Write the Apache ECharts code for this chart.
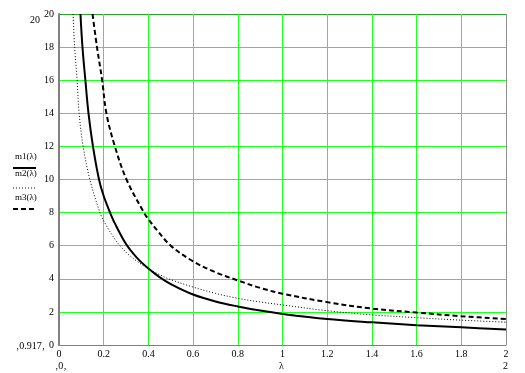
<!DOCTYPE html>
<html>
<head>
<meta charset="utf-8">
<script src="https://cdn.jsdelivr.net/npm/echarts@6/dist/echarts.min.js"></script>
<style>
html,body{margin:0;padding:0;background:#fff;}
#c{width:525px;height:373px;}
</style>
</head>
<body>
<div id="c"></div>
<script>
// lambda values and curve values
const m1Lambda = [0.096,0.105,0.118,0.132,0.152,0.179,0.2,0.227,0.25,0.3,0.35,0.4,0.45,0.5,0.6,0.7,0.8,0.9,1.0,1.2,1.4,1.6,1.8,2.0];
const m1Values = [20,18,16,14,12,10,9.0,8.05,7.35,6.1,5.25,4.62,4.1,3.68,3.05,2.63,2.33,2.08,1.88,1.57,1.37,1.2,1.07,0.94];

const m2Lambda = [0.063,0.070,0.081,0.090,0.108,0.138,0.183,0.2,0.25,0.3,0.35,0.4,0.45,0.5,0.6,0.7,0.8,0.9,1.0,1.2,1.4,1.6,1.8,2.0];
const m2Values = [20,18,16,14,12,10,8,7.5,6.4,5.6,5.05,4.62,4.25,3.95,3.5,3.12,2.82,2.6,2.42,2.07,1.82,1.65,1.5,1.38];

const m3Lambda = [0.150,0.170,0.193,0.212,0.25,0.302,0.38,0.4,0.444,0.5,0.6,0.7,0.8,0.9,1.0,1.2,1.4,1.6,1.8,2.0];
const m3Values = [20,18,16,14,12,10,8,7.6,6.85,6.0,5.05,4.4,3.9,3.45,3.1,2.59,2.2,1.96,1.74,1.57];

const xTicks = ['0','0.2','0.4','0.6','0.8','1','1.2','1.4','1.6','1.8','2'];
const yTicks = ['0','2','4','6','8','10','12','14','16','18','20'];
const legendNames = ['m1(λ)','m2(λ)','m3(λ)'];

const pairs = (xs, ys) => xs.map((x, i) => [x, ys[i]]);

const font = 'Liberation Serif';
const green = '#22ff22';
const chart = echarts.init(document.getElementById('c'), null, {renderer: 'canvas'});

const xSplitColors = xTicks.map((t, i) => i === xTicks.length - 1 ? '#909090' : green);
const ySplitColors = yTicks.map((t, i) => i === yTicks.length - 1 ? '#30a030' : green);

const legendTop = [152, 169, 193];
const legendLineY = [168, 188, 209];
const legendTypes = ['solid', [1, 2], [5, 3]];
const legendWidths = [2, 1, 2];

const graphics = [];
legendNames.forEach((n, i) => {
  graphics.push({type: 'text', left: 15, top: legendTop[i],
    style: {text: n, font: '9px "' + font + '"', fill: '#000'}});
  graphics.push({type: 'line', shape: {x1: 13, y1: legendLineY[i], x2: 36, y2: legendLineY[i]},
    style: {stroke: '#000', lineWidth: legendWidths[i], lineDash: legendTypes[i] === 'solid' ? null : legendTypes[i]}});
});
graphics.push({type: 'text', left: 30, top: 15, style: {text: '20', font: '10px "' + font + '"', fill: '#000'}});
graphics.push({type: 'text', left: 16, top: 341, style: {text: '‚0.917‚', font: '10px "' + font + '"', fill: '#000'}});
graphics.push({type: 'text', left: 55, top: 361, style: {text: '‚0‚', font: '10px "' + font + '"', fill: '#000'}});
graphics.push({type: 'text', left: 503, top: 361, style: {text: '2', font: '10px "' + font + '"', fill: '#000'}});
graphics.push({type: 'text', left: 279, top: 361, style: {text: 'λ', font: '10px "' + font + '"', fill: '#000'}});

chart.setOption({
  animation: false,
  backgroundColor: '#fff',
  grid: {left: 59, right: 19, top: 14, bottom: 28, containLabel: false},
  xAxis: {
    type: 'value', min: 0, max: 2, interval: 0.2,
    axisLine: {show: true, onZero: false, lineStyle: {color: '#808080', width: 1}},
    axisTick: {show: false},
    axisLabel: {color: '#000', fontFamily: font, fontSize: 10, margin: 4,
      formatter: (v) => xTicks[Math.round(v / 0.2)]},
    splitLine: {show: true, lineStyle: {color: xSplitColors, width: 1}}
  },
  yAxis: {
    type: 'value', min: 0, max: 20, interval: 2,
    axisLine: {show: true, lineStyle: {color: '#808080', width: 2}},
    axisTick: {show: false},
    axisLabel: {color: '#000', fontFamily: font, fontSize: 10, margin: 5,
      formatter: (v) => yTicks[Math.round(v / 2)]},
    splitLine: {show: true, lineStyle: {color: ySplitColors, width: 1}}
  },
  graphic: graphics,
  series: [
    {name: legendNames[0], type: 'line', data: pairs(m1Lambda, m1Values), showSymbol: false,
      smooth: 0.35, clip: true, lineStyle: {color: '#000', width: 2, type: 'solid'}},
    {name: legendNames[1], type: 'line', data: pairs(m2Lambda, m2Values), showSymbol: false,
      smooth: 0.35, clip: true, lineStyle: {color: '#000', width: 1, type: [1, 2]}},
    {name: legendNames[2], type: 'line', data: pairs(m3Lambda, m3Values), showSymbol: false,
      smooth: 0.35, clip: true, lineStyle: {color: '#000', width: 2, type: [5, 3]}}
  ]
});
</script>
</body>
</html>
